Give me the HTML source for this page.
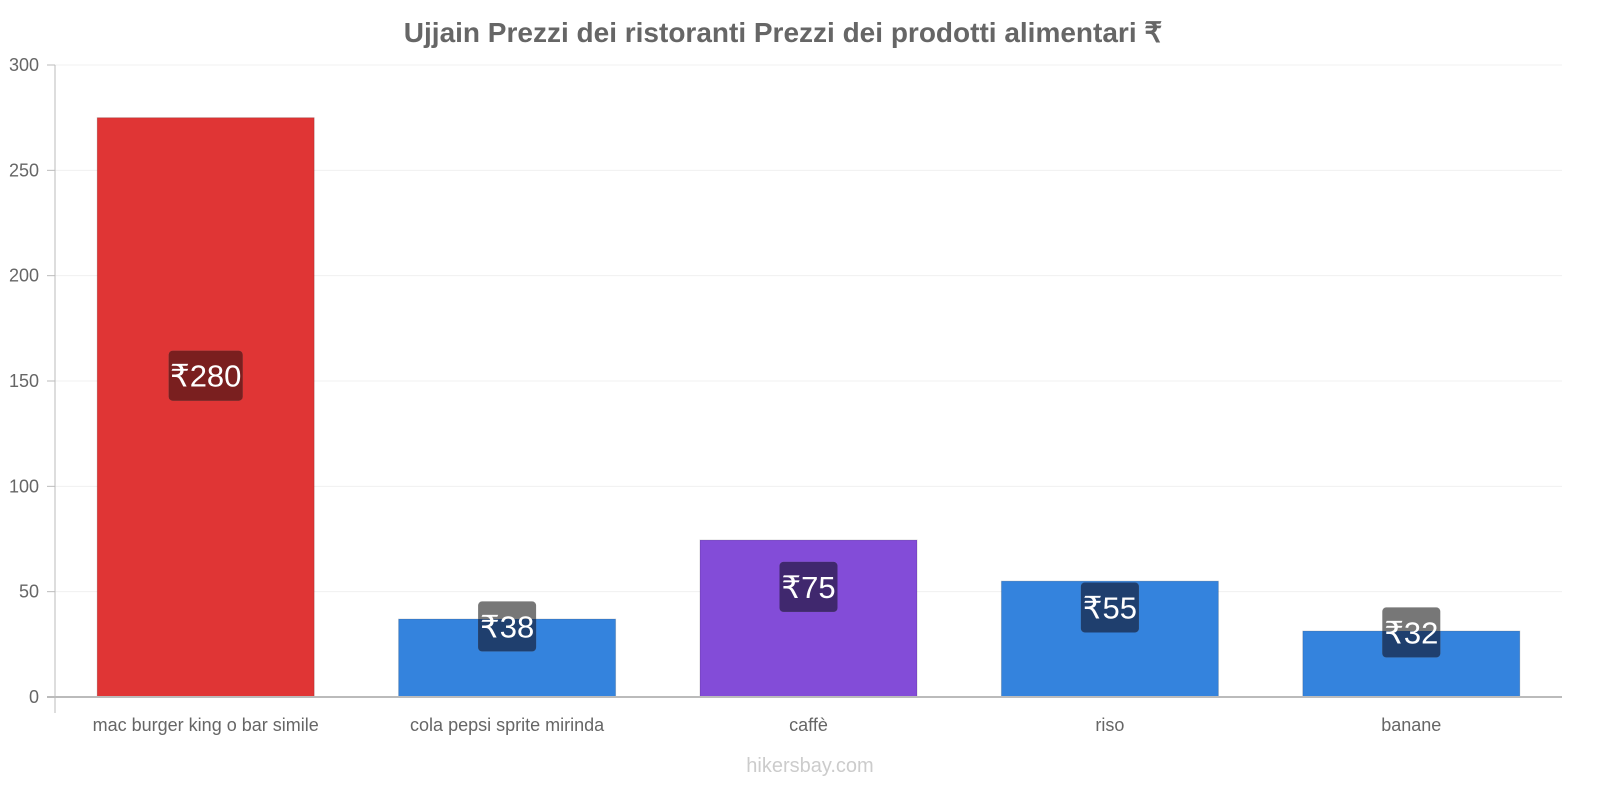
<!DOCTYPE html>
<html><head><meta charset="utf-8"><style>
html,body{margin:0;padding:0;background:#fff;width:1600px;height:800px;overflow:hidden}
text{font-family:"Liberation Sans",sans-serif}
</style></head><body>
<svg id="chart" width="1600" height="800" xmlns="http://www.w3.org/2000/svg">
<text x="783" y="42" text-anchor="middle" font-size="28" font-weight="bold" fill="#666">Ujjain Prezzi dei ristoranti Prezzi dei prodotti alimentari ₹</text>
<g id="grid"></g><g id="bars"></g><g id="axes"></g>
<text x="810" y="772" text-anchor="middle" font-size="20" fill="#ccc">hikersbay.com</text>
</svg>
<script>
const categories=["mac burger king o bar simile","cola pepsi sprite mirinda","caffè","riso","banane"];
const values=[275,37,74.5,55,31.3];
const valueLabels=["₹280","₹38","₹75","₹55","₹32"];
const yTicks=[0,50,100,150,200,250,300];
const colors=["#e03535","#3483dd","#834cd8","#3483dd","#3483dd"];
const labelFills=["#7a1f1f","#1f3f6e","#40286e","#1f3f6e","#1f3f6e"];
const NS="http://www.w3.org/2000/svg";
const x0=55,x1=1562,yB=697,yT=65,yMax=300;
const y=v=>yB-(v/yMax)*(yB-yT);
const band=(x1-x0)/categories.length;
const bx=i=>x0+i*band+band*0.14;
const bw=band*0.72;
function mk(t,a,p){const e=document.createElementNS(NS,t);for(const k in a)e.setAttribute(k,a[k]);p.appendChild(e);return e;}
const grid=document.getElementById('grid'),bars=document.getElementById('bars'),axes=document.getElementById('axes');
yTicks.forEach(t=>{
 const l=mk('line',{x1:x0,x2:x1,y1:y(t),y2:y(t),stroke:'#f0f0f0'},grid);
 
 
 const tk=mk('line',{x1:x0-8,x2:x0,y1:y(t),y2:y(t),stroke:'#bbb'},axes);
 
 
 const tx=mk('text',{x:x0-16,y:y(t)+6,'text-anchor':'end','font-size':18,fill:'#666'},axes);
 tx.textContent=t;
 
 
});
const ax=mk('line',{x1:x0,x2:x0,y1:yT,y2:yB+16,stroke:'#bbb'},axes);


const xa=mk('line',{x1:x0-8,x2:x1,y1:yB,y2:yB,stroke:'#bbb','stroke-width':2},axes);


const defs=mk('defs',{},bars);
categories.forEach((c,i)=>{
 const v=values[i];
 const r=mk('rect',{x:bx(i),y:y(v),width:bw,height:yB-y(v),fill:colors[i],stroke:'rgba(0,0,0,0.15)'},bars);
 
 
 const cp=mk('clipPath',{id:'cp'+i},defs);
 mk('rect',{x:bx(i),y:y(v),width:bw,height:yB-y(v)},cp);
 const cy=y(0.5*v+15),cx=bx(i)+bw/2;
 const w=valueLabels[i].length*16+10,h=50;
 const g1=mk('rect',{x:cx-w/2,y:cy-h/2,width:w,height:h,rx:4,fill:'#777'},bars);
 
 
 const g2=mk('rect',{x:cx-w/2,y:cy-h/2,width:w,height:h,rx:4,fill:labelFills[i],'clip-path':'url(#cp'+i+')'},bars);
 
 
 const t=mk('text',{x:cx,y:cy+11,'text-anchor':'middle','font-size':31,fill:'#fff'},bars);
 t.textContent=valueLabels[i];
 
 
 const xl=mk('text',{x:x0+i*band+band/2,y:731,'text-anchor':'middle','font-size':18,fill:'#666'},axes);
 xl.textContent=c;
 
 
});
</script>
</body></html>
